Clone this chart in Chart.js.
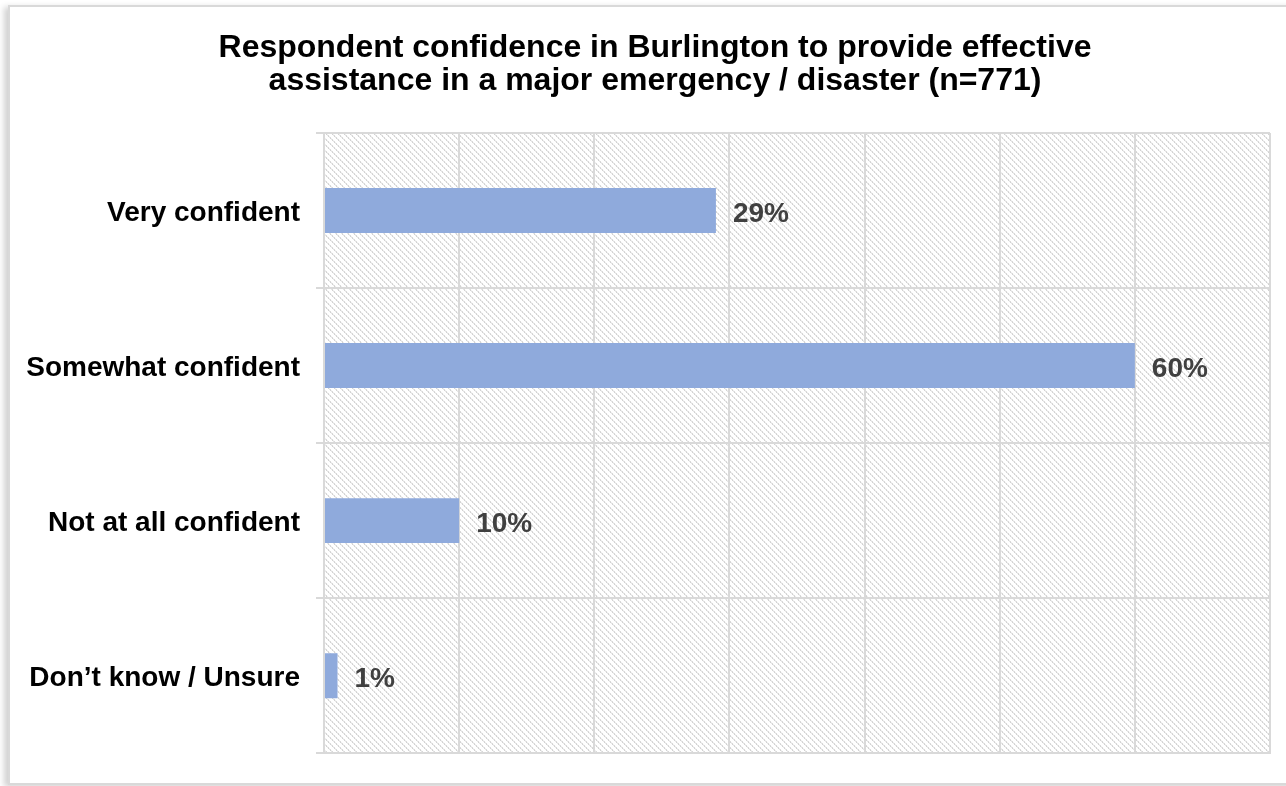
<!DOCTYPE html>
<html>
<head>
<meta charset="utf-8">
<script src="https://cdn.jsdelivr.net/npm/chart.js@4/dist/chart.umd.min.js"></script>
<style>
  html, body { margin: 0; padding: 0; background: #ffffff; }
  body { width: 1286px; height: 786px; position: relative; overflow: hidden; font-family: "Liberation Sans", Arial, sans-serif; }
  #frame {
    position: absolute; left: 8px; top: 5px; width: 1290px; height: 776px;
    border: 2px solid #d9d9d9; box-sizing: content-box;
    box-shadow: -4px 2px 6px rgba(0,0,0,0.18);
    background: #ffffff;
  }
  #wrap { position: absolute; left: 0; top: 0; width: 1286px; height: 786px; }
</style>
</head>
<body>
<div id="frame"></div>
<div id="wrap"><canvas id="chart" width="1286" height="786"></canvas></div>
<script>
// Survey responses
const categories = ["Very confident", "Somewhat confident", "Not at all confident", "Don\u2019t know / Unsure"];
const shares = [29, 60, 10, 1];
const titleLines = [
  "Respondent confidence in Burlington to provide effective",
  "assistance in a major emergency / disaster (n=771)"
];

const FONT = '"Liberation Sans", Arial, sans-serif';

// Light downward-diagonal hatch for the plot background
function makeHatch() {
  const t = document.createElement('canvas');
  t.width = 6; t.height = 6;
  const c = t.getContext('2d');
  c.fillStyle = '#ffffff';
  c.fillRect(0, 0, 6, 6);
  for (let i = 0; i < 6; i++) {
    c.fillStyle = (i % 2 === 0) ? '#d2d2d2' : '#e6e6e6';
    c.fillRect(i, i, 1, 1);
    c.fillStyle = (i % 2 === 0) ? '#efefef' : '#dadada';
    c.fillRect((i + 1) % 6, i, 1, 1);
  }
  return document.getElementById('chart').getContext('2d').createPattern(t, 'repeat');
}
const hatch = makeHatch();

const plotBackground = {
  id: 'plotBackground',
  beforeDraw(chart) {
    const { ctx, chartArea: a } = chart;
    ctx.save();
    ctx.fillStyle = hatch;
    ctx.fillRect(a.left, a.top, a.right - a.left, a.bottom - a.top);
    ctx.restore();
  }
};

const titleText = {
  id: 'titleText',
  afterDraw(chart) {
    const ctx = chart.ctx;
    ctx.save();
    ctx.font = 'bold 32px ' + FONT;
    ctx.fillStyle = '#000000';
    ctx.textAlign = 'center';
    ctx.textBaseline = 'middle';
    const cx = 655;
    titleLines.forEach((line, i) => ctx.fillText(line, cx, 48 + i * 33));
    ctx.restore();
  }
};

const valueLabels = {
  id: 'valueLabels',
  afterDatasetsDraw(chart) {
    const ctx = chart.ctx;
    const meta = chart.getDatasetMeta(0);
    ctx.save();
    ctx.font = 'bold 28px ' + FONT;
    ctx.fillStyle = '#404040';
    ctx.textAlign = 'left';
    ctx.textBaseline = 'middle';
    meta.data.forEach((bar, i) => {
      ctx.fillText(shares[i] + '%', bar.x + 17, bar.y + 4);
    });
    ctx.restore();
  }
};

new Chart(document.getElementById('chart'), {
  type: 'bar',
  data: {
    labels: categories,
    datasets: [{
      data: shares,
      backgroundColor: '#8faadc',
      borderWidth: 0,
      categoryPercentage: 1.0,
      barPercentage: 0.29
    }]
  },
  options: {
    indexAxis: 'y',
    responsive: false,
    animation: false,
    layout: { padding: { left: 0, right: 16, top: 133, bottom: 32 } },
    plugins: {
      legend: { display: false },
      title: { display: false },
      tooltip: { enabled: false }
    },
    scales: {
      x: {
        min: 0, max: 70,
        ticks: { display: false, stepSize: 10 },
        grid: { color: '#d9d9d9', lineWidth: 2, drawTicks: false },
        border: { color: '#d9d9d9', width: 2 }
      },
      y: {
        afterFit(scale) { scale.width = 324; },
        ticks: {
          color: '#000000',
          font: { family: FONT, size: 28, weight: 'bold' },
          padding: 16,
          labelOffset: 3
        },
        grid: { color: '#d9d9d9', lineWidth: 2, offset: true, drawTicks: true, tickLength: 8 },
        border: { color: '#d9d9d9', width: 2 }
      }
    }
  },
  plugins: [plotBackground, valueLabels, titleText]
});
</script>
</body>
</html>
